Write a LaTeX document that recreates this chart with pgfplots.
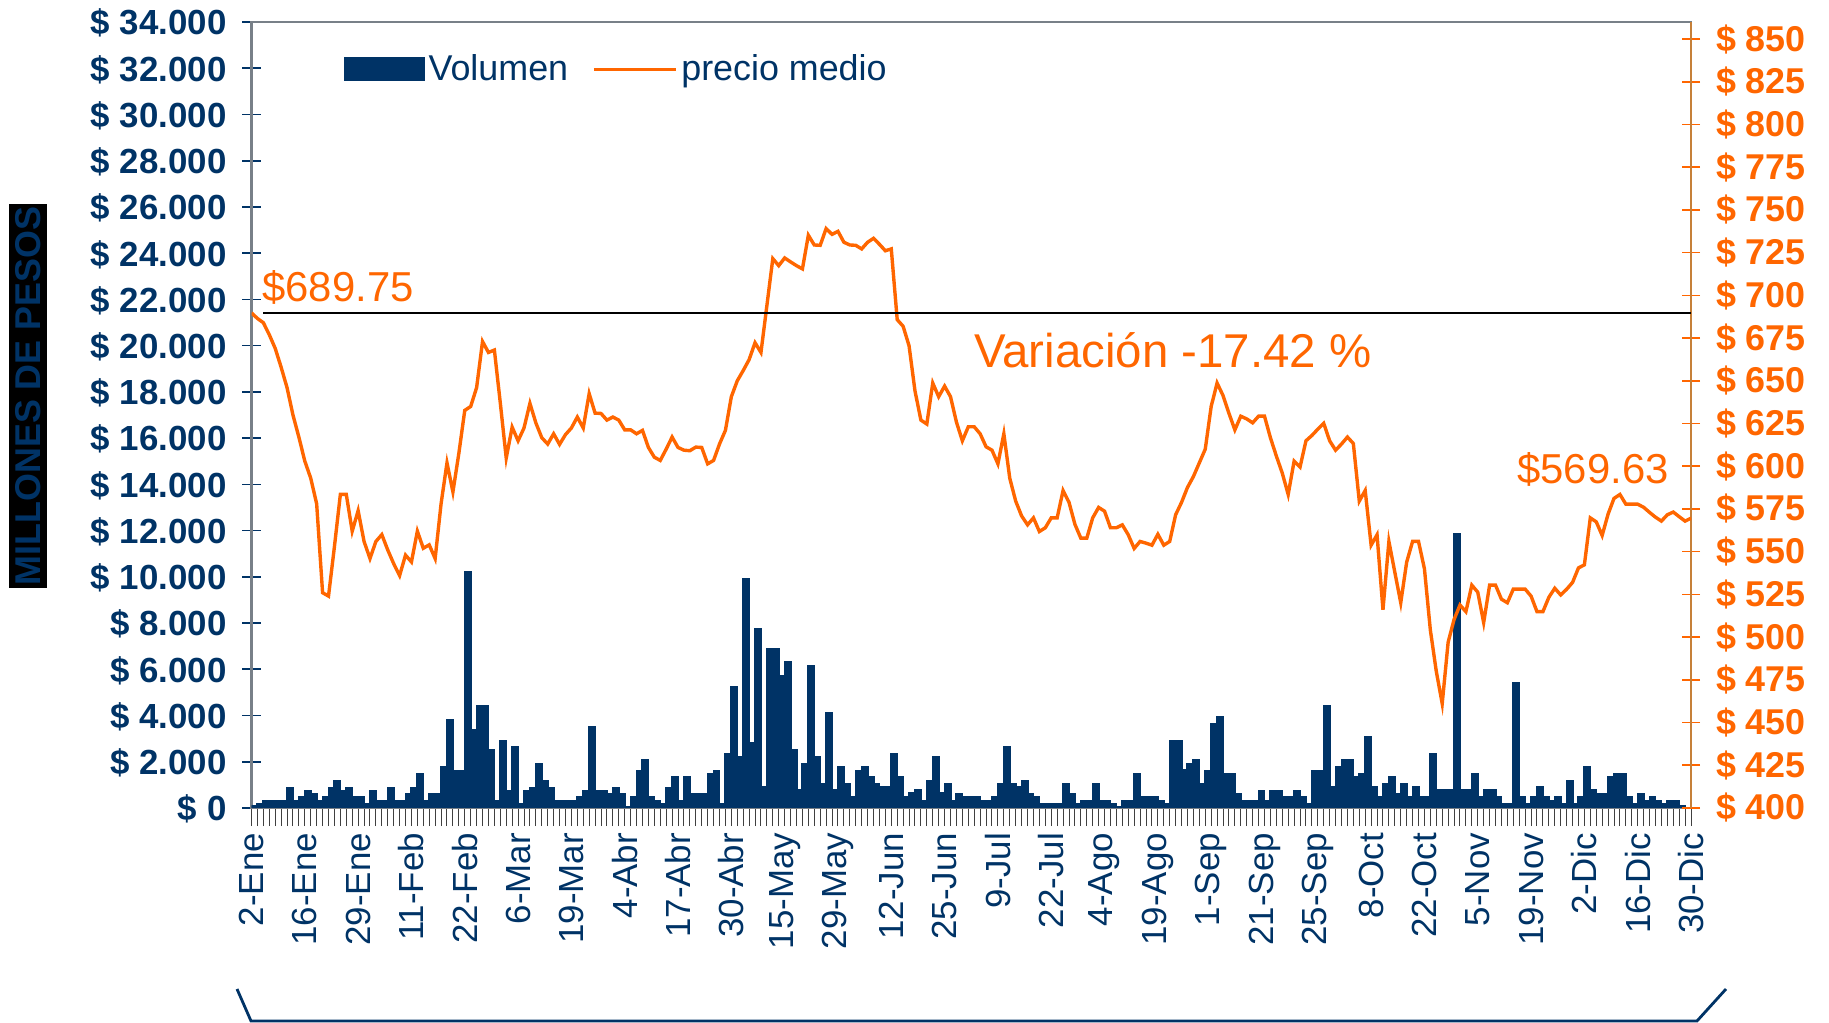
\documentclass[border=0pt]{standalone}
\usepackage{fontspec}
\setmainfont{Liberation Sans}
\usepackage{pgfplots}
\pgfplotsset{compat=1.18}
\usepackage{pgfplotstable}
\definecolor{barblue}{RGB}{0,51,102}
\definecolor{orng}{RGB}{255,102,0}
\definecolor{axgray}{RGB}{120,128,136}

\pgfplotstableread{
k v
0 100
1 170
2 300
3 300
4 300
5 300
6 880
7 300
8 475
9 730
10 590
11 300
12 460
13 880
14 1185
15 730
16 880
17 460
18 460
19 170
20 730
21 300
22 300
23 880
24 300
25 300
26 590
27 880
28 1470
29 300
30 590
31 590
32 1780
33 3810
34 1610
35 1610
36 10210
37 3370
38 4400
39 4400
40 2500
41 300
42 2900
43 730
44 2650
45 170
46 730
47 880
48 1900
49 1185
50 880
51 300
52 300
53 300
54 300
55 475
56 730
57 3500
58 730
59 730
60 590
61 880
62 590
63 50
64 475
65 1610
66 2060
67 475
68 300
69 170
70 880
71 1320
72 300
73 1320
74 590
75 590
76 590
77 1470
78 1610
79 170
80 2340
81 5250
82 2200
83 9900
84 2790
85 7740
86 900
87 6860
88 6860
89 5720
90 6300
91 2500
92 760
93 1910
94 6150
95 2200
96 1050
97 4110
98 760
99 1780
100 1050
101 475
102 1610
103 1780
104 1320
105 1050
106 900
107 900
108 2340
109 1320
110 475
111 630
112 760
113 300
114 1185
115 2200
116 630
117 1050
118 300
119 590
120 475
121 475
122 475
123 300
124 300
125 475
126 1050
127 2660
128 1050
129 900
130 1185
131 590
132 475
133 170
134 170
135 170
136 170
137 1050
138 590
139 170
140 300
141 300
142 1050
143 300
144 300
145 170
146 30
147 300
148 300
149 1470
150 475
151 475
152 475
153 300
154 170
155 2910
156 2910
157 1640
158 1900
159 2060
160 1050
161 1610
162 3640
163 3945
164 1470
165 1470
166 590
167 300
168 300
169 300
170 730
171 300
172 730
173 730
174 475
175 475
176 730
177 475
178 170
179 1610
180 1610
181 4400
182 900
183 1780
184 2060
185 2060
186 1320
187 1470
188 3080
189 900
190 475
191 1050
192 1320
193 590
194 1050
195 475
196 900
197 475
198 475
199 2340
200 760
201 760
202 760
203 11850
204 760
205 760
206 1490
207 475
208 760
209 760
210 475
211 170
212 170
213 5420
214 475
215 170
216 475
217 900
218 475
219 300
220 475
221 170
222 1185
223 170
224 475
225 1780
226 760
227 590
228 590
229 1320
230 1490
231 1490
232 475
233 170
234 590
235 300
236 475
237 300
238 170
239 300
240 300
241 100
242 0
}\voltable

\pgfplotstableread{
k p
0 689.75
1 686.5
2 684
3 677
4 669
5 658
6 646
7 630
8 617
9 603
10 593
11 578
12 526
13 524
14 553
15 583.5
16 583.5
17 562
18 574
19 556
20 546
21 556
22 560
23 551
24 543
25 536
26 548
27 544
28 562
29 552
30 554
31 546
32 578
33 602
34 585
35 607.5
36 632.7
37 635
38 646
39 673
40 666.6
41 668
42 637
43 604.8
44 622.9
45 614.9
46 622.4
47 636.8
48 625.4
49 616.7
50 613
51 619
52 612.8
53 618.5
54 622.4
55 628.8
56 622.4
57 642.5
58 631.1
59 630.9
60 627
61 628.8
62 627
63 621.3
64 621.3
65 619
66 621
67 611
68 605.3
69 603.4
70 610
71 617.1
72 611
73 609.4
74 609.1
75 611.2
76 611
77 601.4
78 603.4
79 613
80 621
81 640.7
82 650
83 656
84 662.4
85 672.3
86 666.6
87 694
88 721.5
89 717.4
90 721.9
91 719.6
92 717.4
93 715.5
94 735.2
95 729.5
96 729.3
97 739.1
98 735.7
99 737.5
100 731.1
101 729.5
102 729.3
103 727.2
104 731.1
105 733.4
106 729.9
107 726.1
108 727.2
109 685.8
110 681.9
111 670.5
112 644.1
113 627
114 624.7
115 648.7
116 640.7
117 646.9
118 640.7
119 625.8
120 614.9
121 623.1
122 623.1
123 619
124 611.4
125 609.4
126 601.4
127 619
128 593
129 579.6
130 570.9
131 565.7
132 569.8
133 561.8
134 564
135 569.8
136 569.8
137 585.8
138 578.9
139 566
140 557.9
141 557.9
142 569.8
143 575.9
144 573.7
145 564
146 564
147 565.7
148 559.9
149 551.9
150 556
151 555
152 553.8
153 560.2
154 553.8
155 556
156 571.6
157 578.9
158 587.6
159 594
160 602
161 610
162 635
163 648.7
164 641.4
165 631
166 621.3
167 629.3
168 627.7
169 625.4
170 629.3
171 629.3
172 616.7
173 606
174 596
175 583.5
176 603
177 599.5
178 614.9
179 618
180 621.7
181 625.1
182 614.9
183 609.4
184 613
185 617.1
186 613.3
187 579.6
188 585.8
189 553.8
190 559.9
191 516
192 556
193 538
194 520.1
195 543.9
196 556
197 556
198 540
199 504.1
200 480
201 461.1
202 497
203 510.3
204 518.8
205 514.9
206 530.4
207 526.3
208 508.5
209 530.4
210 530.4
211 522.2
212 520.1
213 528.1
214 528.1
215 528.1
216 524
217 514.9
218 514.9
219 523.3
220 528.6
221 524.7
222 528
223 532
224 540.5
225 542.3
226 569.8
227 567.5
228 559.5
229 572
230 581.2
231 583.5
232 577.8
233 577.8
234 577.8
235 576
236 573
237 570.2
238 567.9
239 571.6
240 573.2
241 570.5
242 567.9
243 569.63
}\pricetable

\begin{document}
\begin{tikzpicture}
\path[use as bounding box] (0,0) rectangle (914.5bp,511.5bp);
\begin{axis}[
  at={(125.75bp,107.5bp)}, anchor=south west,
  scale only axis, width=719.75bp, height=393bp,
  xmin=0, xmax=243, ymin=0, ymax=34000,
  scaled y ticks=false, scaled x ticks=false,
  ytick={0,2000,...,34000},
  yticklabels={\$ 0,\$ 2.000,\$ 4.000,\$ 6.000,\$ 8.000,\$ 10.000,\$ 12.000,\$ 14.000,\$ 16.000,\$ 18.000,\$ 20.000,\$ 22.000,\$ 24.000,\$ 26.000,\$ 28.000,\$ 30.000,\$ 32.000,\$ 34.000},
  xtick={0,9,...,243},
  xticklabels={2-Ene,16-Ene,29-Ene,11-Feb,22-Feb,6-Mar,19-Mar,4-Abr,17-Abr,30-Abr,15-May,29-May,12-Jun,25-Jun,9-Jul,22-Jul,4-Ago,19-Ago,1-Sep,21-Sep,25-Sep,8-Oct,22-Oct,5-Nov,19-Nov,2-Dic,16-Dic,30-Dic},
  minor x tick num=8,
  tick align=outside,
  major tick length=9bp, minor tick length=9bp,
  xtick pos=bottom, ytick pos=left,
  every major y tick/.append style={barblue, line width=0.8bp, xshift=4.5bp},
  every major x tick/.append style={black!75, line width=0.5bp},
  every minor x tick/.append style={black!75, line width=0.5bp},
  axis line style={axgray, line width=1.2bp},
  yticklabel style={font=\bfseries\fontsize{17.5}{17.5}\selectfont, text=barblue, yshift=-0.6bp},
  xticklabel style={font=\fontsize{17.5}{17.5}\selectfont, text=barblue, rotate=90, anchor=east},
]
\addplot[ybar, bar width=1, fill=barblue, draw=barblue, line width=1bp] table[x expr=\thisrow{k}+0.5, y=v]{\voltable};
\end{axis}
\begin{axis}[
  at={(125.75bp,107.5bp)}, anchor=south west,
  scale only axis, width=719.75bp, height=393bp,
  xmin=0, xmax=243, ymin=400, ymax=860,
  scaled y ticks=false,
  axis y line*=right, axis x line=none,
  ytick={400,425,...,850},
  yticklabels={\$ 400,\$ 425,\$ 450,\$ 475,\$ 500,\$ 525,\$ 550,\$ 575,\$ 600,\$ 625,\$ 650,\$ 675,\$ 700,\$ 725,\$ 750,\$ 775,\$ 800,\$ 825,\$ 850},
  tick align=outside, major tick length=9bp,
  every major y tick/.append style={orng, line width=0.8bp, xshift=-4.5bp},
  axis line style={orange!55!gray, line width=1.2bp},
  yticklabel style={font=\bfseries\fontsize{18}{18}\selectfont, text=orng},
  legend columns=2,
  legend style={at={(0.0597,0.94)}, anchor=west, draw=none, fill=none,
    font=\fontsize{18}{18}\selectfont, text=barblue,
    /tikz/every even column/.append style={column sep=10bp}},
]
\addlegendimage{legend image code/.code={\fill[barblue] (0bp,-5.75bp) rectangle (40bp,5.75bp);}}
\addlegendentry{Volumen}
\addplot[orng, line width=1.7bp, legend image code/.code={\draw[orng, line width=1.6bp] (0bp,0bp) -- (41bp,0bp);}] table[x=k, y=p]{\pricetable};
\addlegendentry{precio medio}
\addplot[black, line width=0.9bp, forget plot] coordinates {(2,689.75) (243,689.75)};
\end{axis}
\node[text=orng, font=\fontsize{21}{21}\selectfont] at (169bp,368bp) {\$689.75};
\node[text=orng, font=\fontsize{21}{21}\selectfont] at (796.5bp,277bp) {\$569.63};
\node[text=orng, font=\fontsize{23.8}{23.8}\selectfont] at (586.5bp,336.5bp) {Variación -17.42 \%};
\node[fill=black, text=barblue, rotate=90, font=\bfseries\fontsize{18}{18}\selectfont, inner xsep=1.5bp, inner ysep=3bp] at (14bp,313.5bp) {MILLONES DE PESOS};
\draw[barblue, line width=1.4bp] (118.5bp,17bp) -- (125.5bp,1bp) -- (848.5bp,1bp) -- (863bp,17bp);
\end{tikzpicture}
\end{document}
